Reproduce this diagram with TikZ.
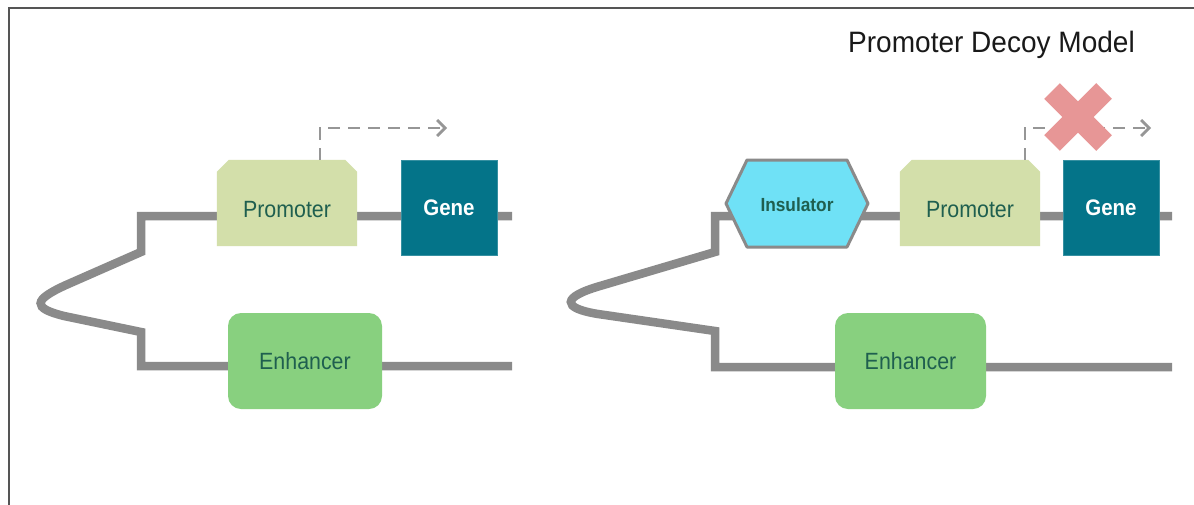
\documentclass[tikz,border=0pt]{standalone}
\usepackage{graphicx}
\usepackage{fontspec}
\setmainfont{Liberation Sans}
\usetikzlibrary{arrows.meta,calc}
\definecolor{dnagray}{HTML}{8A8A8A}
\definecolor{promfill}{HTML}{D3DFAA}
\definecolor{genefill}{HTML}{047489}
\definecolor{enhfill}{HTML}{88D07F}
\definecolor{insfill}{HTML}{6FE1F6}
\definecolor{insdraw}{HTML}{8A8A8A}
\definecolor{lbltext}{HTML}{1F5F4F}
\definecolor{dashgray}{HTML}{969696}
\definecolor{xred}{HTML}{E79696}
\definecolor{framegray}{HTML}{555555}
\newcommand{\narrowtxt}[1]{\scalebox{0.91}[1]{#1}}
\begin{document}
\begin{tikzpicture}[x=1pt,y=-1pt,
  dna/.style={draw=dnagray, line width=8.5pt, line cap=butt, line join=miter},
  box/.style={inner sep=0pt, minimum width=#1},
  promshape/.style={fill=promfill},
  genebox/.style={fill=genefill, draw=genefill!80!white, line width=0.6pt, inner sep=0pt, minimum width=96pt, minimum height=95pt, text=white, font=\fontsize{22.5}{26}\selectfont\bfseries},
  enhbox/.style={fill=enhfill, rounded corners=13pt, inner sep=0pt, minimum height=96pt},
  lbl/.style={text=lbltext, inner sep=0pt, font=\fontsize{23.5}{26}\selectfont},
  inslbl/.style={text=lbltext, inner sep=0pt, font=\fontsize{19}{22}\selectfont\bfseries},
  tss/.style={draw=dashgray, line width=2.8pt, dash pattern=on 12pt off 8pt, -{Straight Barb[length=8pt,width=16pt,line width=2.8pt]}},
  xmark/.style={draw=xred, line width=22pt, line cap=butt},
  titlefont/.style={inner sep=0pt, text=black!90, font=\fontsize{29.5}{32}\selectfont}
]
\useasboundingbox (0,0) rectangle (1194,504);
\fill[white] (0,0) rectangle (1194,504);
% frame
\draw[framegray, line width=2pt] (9,520) -- (9,8) -- (1200,8);

% title
\node[titlefont, anchor=base] (title) at (991.5,52) {\scalebox{0.95}[1]{Promoter Decoy Model}};

% ---------- left panel ----------
\coordinate (L1) at (512,216);
\coordinate (L2) at (141,216);
\coordinate (L3) at (141,252);
\coordinate (L5) at (141,332);
\coordinate (L6) at (141,366);
\coordinate (L7) at (512,366);
\draw[dna] (L1) -- (L2) -- (L3) -- (66,285) .. controls (33,300) and (32,308) .. (64,316) -- (L5) -- (L6) -- (L7);

\node[box=140pt, minimum height=86pt] (p1) at (287,203) {};
\fill[promshape] (p1.south west) -- ($(p1.north west)+(0,12)$) -- ($(p1.north west)+(12,0)$)
  -- ($(p1.north east)+(-12,0)$) -- ($(p1.north east)+(0,12)$) -- (p1.south east) -- cycle;
\node[lbl] (p1t) at ($(p1.center)+(0,7)$) {\narrowtxt{Promoter}};

\node[genebox] (g1) at (449,208) {\narrowtxt{Gene}};

\node[enhbox, minimum width=154pt, fill=enhfill] (e1) at (305,361) {};
\node[lbl] (e1t) at (e1.center) {\narrowtxt{Enhancer}};

\coordinate (t1) at (320,128);
\coordinate (h1) at (447,128);
\draw[tss] (t1 |- p1.north) -- (t1) -- (h1);

% ---------- right panel ----------
\coordinate (R1) at (1172,216);
\coordinate (R2) at (715,216);
\coordinate (R3) at (715,252);
\coordinate (R5) at (715,331);
\coordinate (R6) at (715,367);
\coordinate (R7) at (1172,367);
\draw[dna] (R1) -- (R2) -- (R3) -- (600,286) .. controls (562,297) and (561,308) .. (598,314) -- (R5) -- (R6) -- (R7);

\node[box=142pt, minimum height=87pt] (ins) at (797,203.5) {};
\filldraw[fill=insfill, draw=insdraw, line width=3pt, line join=round]
  ($(ins.center)+(-71,0)$) -- ($(ins.center)+(-50,-43.5)$) -- ($(ins.center)+(50,-43.5)$)
  -- ($(ins.center)+(71,0)$) -- ($(ins.center)+(50,43.5)$) -- ($(ins.center)+(-50,43.5)$) -- cycle;
\node[inslbl] (inst) at ($(ins.center)+(0,1.5)$) {\narrowtxt{Insulator}};

\node[box=140pt, minimum height=86pt] (p2) at (970,203) {};
\fill[promshape] (p2.south west) -- ($(p2.north west)+(0,12)$) -- ($(p2.north west)+(12,0)$)
  -- ($(p2.north east)+(-12,0)$) -- ($(p2.north east)+(0,12)$) -- (p2.south east) -- cycle;
\node[lbl] (p2t) at ($(p2.center)+(0,7)$) {\narrowtxt{Promoter}};

\node[genebox] (g2) at (1111,208) {\narrowtxt{Gene}};

\node[enhbox, minimum width=151pt] (e2) at (910.5,361) {};
\node[lbl] (e2t) at (e2.center) {\narrowtxt{Enhancer}};

\coordinate (t2) at (1025,128);
\coordinate (h2) at (1151,128);
\draw[tss] (t2 |- p2.north) -- (t2) -- (h2);

% red X
\coordinate (xc) at (1078,117);
\draw[xmark] ($(xc)+(-26,-26)$) -- ($(xc)+(26,26)$);
\draw[xmark] ($(xc)+(26,-26)$) -- ($(xc)+(-26,26)$);
\end{tikzpicture}
\end{document}
